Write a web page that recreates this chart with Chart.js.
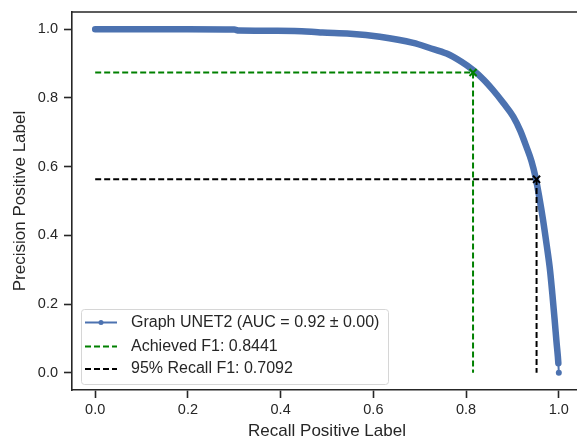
<!DOCTYPE html>
<html>
<head>
<meta charset="utf-8">
<script src="https://cdn.jsdelivr.net/npm/chart.js@4.4.1/dist/chart.umd.min.js"></script>
<style>
    html, body { margin: 0; padding: 0; overflow: hidden; background: #fff; }
</style>
</head>
<body>
<canvas id="pr-chart" width="590" height="445"></canvas>
<script>
// values
const recall = [0.0, 0.1, 0.2, 0.3, 0.31, 0.43, 0.49, 0.55, 0.614, 0.686, 0.72, 0.758, 0.79, 0.815, 0.838,
    0.858, 0.88, 0.902, 0.917, 0.93, 0.941, 0.95, 0.958, 0.966, 0.974, 0.981, 0.986, 0.991, 0.995, 0.999, 1.0];
const precision = [1.0, 1.0, 1.0, 0.999, 0.996, 0.995, 0.99, 0.987, 0.978, 0.96, 0.946, 0.929, 0.905, 0.881, 0.853,
    0.823, 0.786, 0.745, 0.704, 0.658, 0.616, 0.568, 0.51, 0.445, 0.37, 0.299, 0.23, 0.154, 0.09, 0.028, 0.0];
const achieved = {recall: 0.815, precision: 0.874};
const recall95 = {recall: 0.952, precision: 0.563};
const legendLabels = ['Graph UNET2 (AUC = 0.92 \u00b1 0.00)', 'Achieved F1: 0.8441', '95% Recall F1: 0.7092'];
const xTicks = [0.0, 0.2, 0.4, 0.6, 0.8, 1.0];
const yTicks = [0.0, 0.2, 0.4, 0.6, 0.8, 1.0];

const blue = '#4c72b0';
const green = '#008000';
const ink = '#262626';
const font = 'Liberation Sans, Arial, sans-serif';
const last = recall.length - 1;

const framePlugin = {
    id: 'frame',
    afterDraw(chart) {
        const {ctx, chartArea: a} = chart;
        ctx.save();
        ctx.strokeStyle = ink;
        ctx.lineWidth = 1.6;
        ctx.beginPath();
        ctx.moveTo(a.left, a.top);
        ctx.lineTo(a.right, a.top);
        ctx.stroke();
        ctx.restore();
    }
};

// legend drawn inside the plot, lower left
const boxLegend = {
    id: 'boxLegend',
    afterDraw(chart) {
        const {ctx, chartArea: a} = chart;
        const x0 = a.left + 9, y1 = a.bottom - 6;
        const w = 307, h = 75;
        const y0 = y1 - h;
        ctx.save();
        ctx.fillStyle = 'rgba(255,255,255,0.8)';
        ctx.strokeStyle = '#d6d6d6';
        ctx.lineWidth = 1;
        ctx.beginPath();
        ctx.roundRect(x0 + 0.5, y0 + 0.5, w, h, 3);
        ctx.fill();
        ctx.stroke();

        const rows = [y0 + 13.5, y0 + 37.5, y0 + 60];
        const styles = [
            {color: blue, dash: [], dot: true},
            {color: green, dash: [6, 3], dot: false},
            {color: '#000', dash: [6, 3], dot: false}
        ];
        rows.forEach((y, i) => {
            const s = styles[i];
            ctx.strokeStyle = s.color;
            ctx.lineWidth = 2;
            ctx.setLineDash(s.dash);
            ctx.beginPath();
            ctx.moveTo(x0 + 4, y);
            ctx.lineTo(x0 + 36, y);
            ctx.stroke();
            ctx.setLineDash([]);
            if (s.dot) {
                ctx.fillStyle = s.color;
                ctx.beginPath();
                ctx.arc(x0 + 20, y, 2.5, 0, Math.PI * 2);
                ctx.fill();
            }
            ctx.fillStyle = ink;
            ctx.font = '16px ' + font;
            ctx.textBaseline = 'middle';
            ctx.fillText(legendLabels[i], x0 + 50, y);
        });
        ctx.restore();
    }
};

const prField = document.getElementById('pr-chart');
const prChart = new Chart(prField, {
        type: 'scatter',
        data: {
            datasets: [
                {
                    data: [{x: achieved.recall, y: achieved.precision}],
                    pointStyle: 'crossRot',
                    pointRadius: 5,
                    pointBorderWidth: 2,
                    pointBorderColor: green,
                    order: 0
                },
                {
                    data: [{x: recall95.recall, y: recall95.precision}],
                    pointStyle: 'crossRot',
                    pointRadius: 5,
                    pointBorderWidth: 2,
                    pointBorderColor: '#000',
                    order: 1
                },
                {
                    data: [{x: 0, y: achieved.precision}, {x: achieved.recall, y: achieved.precision}, {x: achieved.recall, y: 0}],
                    showLine: true,
                    borderColor: green,
                    borderWidth: 2,
                    borderDash: [6, 3],
                    pointRadius: 0,
                    order: 2
                },
                {
                    data: [{x: 0, y: recall95.precision}, {x: recall95.recall, y: recall95.precision}, {x: recall95.recall, y: 0}],
                    showLine: true,
                    borderColor: '#000',
                    borderWidth: 2,
                    borderDash: [6, 3],
                    pointRadius: 0,
                    order: 3
                },
                {
                    data: recall.map((r, i) => ({x: r, y: precision[i]})),
                    showLine: true,
                    cubicInterpolationMode: 'monotone',
                    borderColor: blue,
                    borderWidth: 6.5,
                    borderCapStyle: 'round',
                    borderJoinStyle: 'round',
                    pointRadius: ctx => ctx.dataIndex === last ? 3 : 0,
                    pointBackgroundColor: blue,
                    pointBorderWidth: 0,
                    segment: {
                        borderWidth: ctx => ctx.p1DataIndex === last ? 2 : undefined
                    },
                    order: 4
                }
            ]
        },
        options: {
            responsive: false,
            animation: false,
            layout: {padding: {top: 12, right: 8, left: 0, bottom: 0}},
            plugins: {
                legend: {display: false},
                tooltip: {enabled: false}
            },
            scales: {
                x: {
                    min: -0.05,
                    max: 1.05,
                    afterBuildTicks: s => { s.ticks = xTicks.map(v => ({value: v})); },
                    afterFit: s => {
                        s.height = 55;
                        s.paddingLeft = 0;
                        s.paddingRight = 0;
                    },
                    ticks: {
                        color: ink,
                        font: {family: font, size: 14.5},
                        padding: 3,
                        maxRotation: 0,
                        callback: v => v.toFixed(1)
                    },
                    grid: {drawOnChartArea: false, tickLength: 8, tickColor: ink, tickWidth: 1.6},
                    border: {color: ink, width: 1.6},
                    title: {
                        display: true,
                        text: 'Recall Positive Label',
                        color: ink,
                        font: {family: font, size: 17},
                        padding: {top: 0, bottom: 3}
                    }
                },
                y: {
                    min: -0.05,
                    max: 1.05,
                    afterBuildTicks: s => { s.ticks = yTicks.map(v => ({value: v})); },
                    afterFit: s => {
                        s.width = 72;
                        s.paddingTop = 0;
                        s.paddingBottom = 0;
                    },
                    ticks: {
                        color: ink,
                        font: {family: font, size: 14.5},
                        padding: 6,
                        callback: v => v.toFixed(1)
                    },
                    grid: {drawOnChartArea: false, tickLength: 8, tickColor: ink, tickWidth: 1.6},
                    border: {color: ink, width: 1.6},
                    title: {
                        display: true,
                        text: 'Precision Positive Label',
                        color: ink,
                        font: {family: font, size: 17},
                        padding: {top: 10, bottom: 0}
                    }
                }
            }
        },
        plugins: [framePlugin, boxLegend]
    }
);
</script>
</body>
</html>
